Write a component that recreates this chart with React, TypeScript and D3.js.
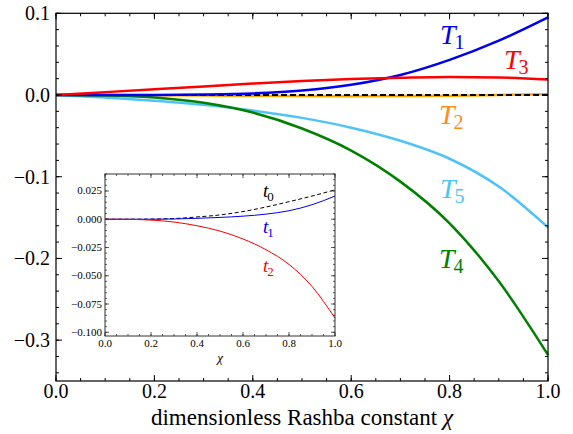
import React from 'react';
import * as d3 from 'd3';

const chi = [0, 0.1, 0.2, 0.3, 0.4, 0.5, 0.6, 0.7, 0.8, 0.9, 1.0];
const T1 = [0, 0, 0.0001, 0.0006, 0.002, 0.0055, 0.0125, 0.0245, 0.043, 0.0665, 0.095];
const T2 = [0, -0.0001, -0.0003, -0.0006, -0.001, -0.0013, -0.0015, -0.0013, -0.0009, 0, 0.001];
const T3 = [0, 0.0035, 0.007, 0.0105, 0.014, 0.017, 0.0195, 0.021, 0.022, 0.0215, 0.019];
const T4 = [0, -0.0005, -0.003, -0.0095, -0.0215, -0.041, -0.068, -0.106, -0.157, -0.228, -0.318];
const T5 = [0, -0.003, -0.007, -0.012, -0.019, -0.028, -0.04, -0.056, -0.078, -0.112, -0.162];
const zeroLine = [0, 0, 0, 0, 0, 0, 0, 0, 0, 0, 0];

const t0 = [0, 0, 0.0001, 0.0006, 0.002, 0.0038, 0.0068, 0.0108, 0.0155, 0.0205, 0.026];
const t1 = [0, 0, 0, 0.0002, 0.0008, 0.0016, 0.0027, 0.0045, 0.0075, 0.0128, 0.0205];
const t2 = [0, -0.0001, -0.0008, -0.0025, -0.0058, -0.0105, -0.0175, -0.027, -0.04, -0.0595, -0.0875];

const mainXTicks = [0, 0.2, 0.4, 0.6, 0.8, 1.0];
const mainYTicks = [0.1, 0, -0.1, -0.2, -0.3];
const insetXTicks = [0, 0.2, 0.4, 0.6, 0.8, 1.0];
const insetYTicks = [0.025, 0, -0.025, -0.05, -0.075, -0.1];

const fmtMinus = (s: string) => s.replace('-', '\u2212');

export default function App() {
  const W = 573, H = 434;
  const x = d3.scaleLinear().domain([0, 1]).range([56, 548]);
  const y = d3.scaleLinear().domain([-0.35, 0.1]).range([381, 13.3]);
  const ix = d3.scaleLinear().domain([0, 1]).range([105, 335]);
  const iy = d3.scaleLinear().domain([-0.1033, 0.04]).range([336, 174]);

  const line = (xs: any, ys: any, data: number[]) =>
    d3.line<number>().x((_, i) => xs(chi[i])).y((d) => ys(d)).curve(d3.curveMonotoneX)(data) || '';

  const font = '"Liberation Serif", "Times New Roman", serif';

  const mainMinorX = d3.range(0, 1.0001, 0.05);
  const mainMinorY = d3.range(-0.34, 0.1001, 0.02);
  const insMinorX = d3.range(0, 1.0001, 0.05);
  const insMinorY = d3.range(-0.1, 0.0401, 0.005);

  const x0 = x.range()[0], x1 = x.range()[1];
  const yTop = y.range()[1], yBot = y.range()[0];
  const ix0 = 105, ix1 = 335, iyTop = 174, iyBot = 336;

  const label = (txt: string, sub: string, lx: number, ly: number, color: string, size: number, subSize: number, dy: number) => (
    <text x={lx} y={ly} fill={color} fontFamily={font} fontSize={size}>
      <tspan fontStyle="italic">{txt}</tspan>
      <tspan fontSize={subSize} dy={dy} dx={-1}>{sub}</tspan>
    </text>
  );

  return (
    <svg width={W} height={H} style={{ position: 'absolute', left: 0, top: 0, background: '#fff' }}>
      {/* main curves */}
      <path d={line(x, y, T2)} fill="none" stroke="#ffa500" strokeWidth={2.5} />
      <path d={line(x, y, zeroLine)} fill="none" stroke="#000" strokeWidth={1.8} strokeDasharray="6,3" />
      <path d={line(x, y, T5)} fill="none" stroke="#4fc3f7" strokeWidth={2.5} />
      <path d={line(x, y, T4)} fill="none" stroke="#008000" strokeWidth={2.5} />
      <path d={line(x, y, T1)} fill="none" stroke="#0000ee" strokeWidth={2.5} />
      <path d={line(x, y, T3)} fill="none" stroke="#ff0000" strokeWidth={2.5} />

      {/* main frame */}
      <rect x={x0} y={yTop} width={x1 - x0} height={yBot - yTop} fill="none" stroke="#000" strokeWidth={1.2} />
      {mainMinorX.map((v, i) => (
        <g key={'mx' + i}>
          <line x1={x(v)} x2={x(v)} y1={yBot} y2={yBot - 3} stroke="#000" />
          <line x1={x(v)} x2={x(v)} y1={yTop} y2={yTop + 3} stroke="#000" />
        </g>
      ))}
      {mainMinorY.map((v, i) => (
        <g key={'my' + i}>
          <line x1={x0} x2={x0 + 3} y1={y(v)} y2={y(v)} stroke="#000" />
          <line x1={x1} x2={x1 - 3} y1={y(v)} y2={y(v)} stroke="#000" />
        </g>
      ))}
      {mainXTicks.map((v, i) => (
        <g key={'Mx' + i}>
          <line x1={x(v)} x2={x(v)} y1={yBot} y2={yBot - 6} stroke="#000" />
          <line x1={x(v)} x2={x(v)} y1={yTop} y2={yTop + 6} stroke="#000" />
          <text x={x(v)} y={398} textAnchor="middle" fontFamily={font} fontSize={20}>{v.toFixed(1)}</text>
        </g>
      ))}
      {mainYTicks.map((v, i) => (
        <g key={'My' + i}>
          <line x1={x0} x2={x0 + 6} y1={y(v)} y2={y(v)} stroke="#000" />
          <line x1={x1} x2={x1 - 6} y1={y(v)} y2={y(v)} stroke="#000" />
          <text x={50} y={y(v) + 7} textAnchor="end" fontFamily={font} fontSize={20}>{fmtMinus(v.toFixed(1))}</text>
        </g>
      ))}
      <text x={(x0 + x1) / 2} y={425} textAnchor="middle" fontFamily={font} fontSize={23}>
        dimensionless Rashba constant <tspan fontStyle="italic">χ</tspan>
      </text>

      {label('T', '1', 440, 44, '#0000ee', 28, 20, 5)}
      {label('T', '3', 504, 69, '#ff0000', 28, 20, 5)}
      {label('T', '2', 439, 124, '#ff8c1a', 28, 20, 5)}
      {label('T', '5', 440, 198, '#4fc3f7', 28, 20, 5)}
      {label('T', '4', 439, 268, '#008000', 28, 20, 5)}

      {/* inset */}
      <rect x={ix0} y={iyTop} width={ix1 - ix0} height={iyBot - iyTop} fill="#fff" stroke="none" />
      <path d={line(ix, iy, t0)} fill="none" stroke="#000" strokeWidth={1} strokeDasharray="4,2.5" />
      <path d={line(ix, iy, t1)} fill="none" stroke="#0000ee" strokeWidth={1} />
      <path d={line(ix, iy, t2)} fill="none" stroke="#ff0000" strokeWidth={1} />
      <rect x={ix0} y={iyTop} width={ix1 - ix0} height={iyBot - iyTop} fill="none" stroke="#333" strokeWidth={1} />
      {insMinorX.map((v, i) => (
        <g key={'ix' + i}>
          <line x1={ix(v)} x2={ix(v)} y1={iyBot} y2={iyBot - 2} stroke="#333" strokeWidth={0.8} />
          <line x1={ix(v)} x2={ix(v)} y1={iyTop} y2={iyTop + 2} stroke="#333" strokeWidth={0.8} />
        </g>
      ))}
      {insMinorY.map((v, i) => (
        <g key={'iy' + i}>
          <line x1={ix0} x2={ix0 + 2} y1={iy(v)} y2={iy(v)} stroke="#333" strokeWidth={0.8} />
          <line x1={ix1} x2={ix1 - 2} y1={iy(v)} y2={iy(v)} stroke="#333" strokeWidth={0.8} />
        </g>
      ))}
      {insetXTicks.map((v, i) => (
        <g key={'IX' + i}>
          <line x1={ix(v)} x2={ix(v)} y1={iyBot} y2={iyBot - 4} stroke="#333" strokeWidth={0.8} />
          <line x1={ix(v)} x2={ix(v)} y1={iyTop} y2={iyTop + 4} stroke="#333" strokeWidth={0.8} />
          <text x={ix(v)} y={347} textAnchor="middle" fontFamily={font} fontSize={11}>{v.toFixed(1)}</text>
        </g>
      ))}
      {insetYTicks.map((v, i) => (
        <g key={'IY' + i}>
          <line x1={ix0} x2={ix0 + 4} y1={iy(v)} y2={iy(v)} stroke="#333" strokeWidth={0.8} />
          <line x1={ix1} x2={ix1 - 4} y1={iy(v)} y2={iy(v)} stroke="#333" strokeWidth={0.8} />
          <text x={102} y={iy(v) + 3.5} textAnchor="end" fontFamily={font} fontSize={11}>{fmtMinus(v.toFixed(3))}</text>
        </g>
      ))}
      <text x={ix(0.5)} y={362} textAnchor="middle" fontFamily={font} fontSize={13} fontStyle="italic">χ</text>
      {label('t', '0', 263, 197, '#000', 19, 13, 4)}
      {label('t', '1', 263, 233, '#0000ee', 19, 13, 4)}
      {label('t', '2', 263, 272, '#ff0000', 19, 13, 4)}
    </svg>
  );
}
